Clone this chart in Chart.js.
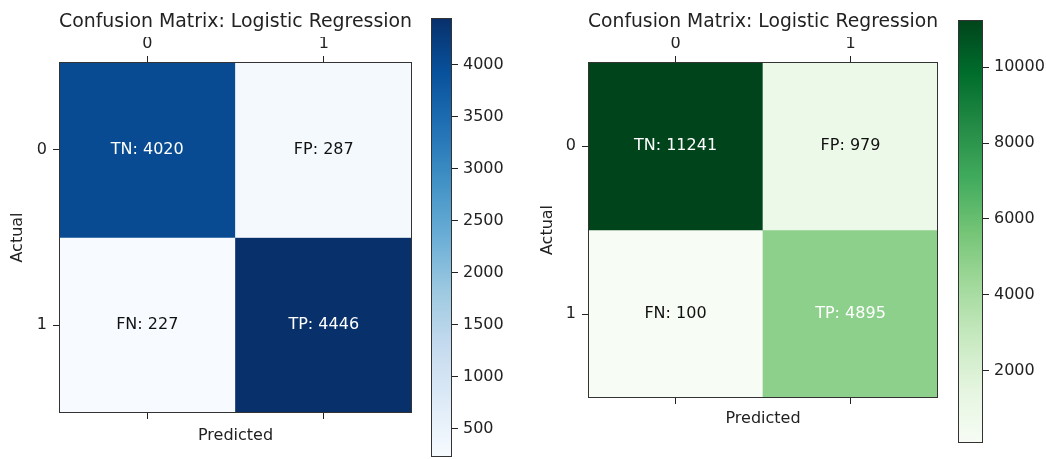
<!DOCTYPE html>
<html>
<head>
<meta charset="utf-8">
<script src="https://cdn.jsdelivr.net/npm/chart.js@4.4.1/dist/chart.umd.min.js"></script>
<style>
  body { margin: 0; background: #fff; width: 1046px; height: 459px; position: relative; overflow: hidden; }
  canvas { position: absolute; top: 0; }
</style>
</head>
<body>
<canvas id="blueMatrix" width="425" height="459" style="left:0px"></canvas>
<canvas id="blueBar" width="95" height="459" style="left:425px"></canvas>
<canvas id="greenMatrix" width="420" height="459" style="left:530px"></canvas>
<canvas id="greenBar" width="96" height="459" style="left:950px"></canvas>
<script>
// data
const classes = ['0', '1'];
const cellNames = [['TN', 'FP'], ['FN', 'TP']];
const blueActual0 = [4020, 287];
const blueActual1 = [227, 4446];
const greenActual0 = [11241, 979];
const greenActual1 = [100, 4895];
const blueTicks = [500, 1000, 1500, 2000, 2500, 3000, 3500, 4000];
const greenTicks = [2000, 4000, 6000, 8000, 10000];

// matplotlib Blues / Greens
const blues = ['#f7fbff', '#deebf7', '#c6dbef', '#9ecae1', '#6baed6', '#4292c6', '#2171b5', '#08519c', '#08306b'];
const greens = ['#f7fcf5', '#e5f5e0', '#c7e9c0', '#a1d99b', '#74c476', '#41ab5d', '#238b45', '#006d2c', '#00441b'];

const FONT = '"DejaVu Sans", sans-serif';
const INK = '#222';

function hexToRgb(h) {
  return [1, 3, 5].map(i => parseInt(h.slice(i, i + 2), 16));
}

function cmap(stops, t) {
  t = Math.min(1, Math.max(0, t));
  const p = t * (stops.length - 1);
  const i = Math.min(Math.floor(p), stops.length - 2);
  const f = p - i;
  const a = hexToRgb(stops[i]);
  const b = hexToRgb(stops[i + 1]);
  const c = a.map((v, k) => Math.round(v + (b[k] - v) * f));
  return `rgb(${c[0]},${c[1]},${c[2]})`;
}

// box around the plot area
const frame = {
  id: 'frame',
  afterDraw(chart) {
    const a = chart.chartArea;
    const ctx = chart.ctx;
    ctx.save();
    ctx.strokeStyle = '#333';
    ctx.lineWidth = 1;
    ctx.strokeRect(a.left + 0.5, a.top + 0.5, a.width - 1, a.height - 1);
    ctx.restore();
  }
};

// "TN: 4020" etc in each cell
const cellText = {
  id: 'cellText',
  afterDatasetsDraw(chart) {
    const ctx = chart.ctx;
    ctx.save();
    ctx.font = '16px ' + FONT;
    ctx.textAlign = 'center';
    ctx.textBaseline = 'middle';
    chart.data.datasets.forEach((ds, r) => {
      chart.getDatasetMeta(r).data.forEach((bar, c) => {
        const p = bar.getCenterPoint();
        ctx.fillStyle = r === c ? '#ffffff' : '#111111';
        ctx.fillText(cellNames[r][c] + ': ' + ds.counts[c], p.x, p.y);
      });
    });
    ctx.restore();
  }
};

function makeMatrix(id, rows, stops, box) {
  const all = rows.flat();
  const lo = Math.min(...all);
  const hi = Math.max(...all);
  const datasets = rows.map((row, r) => ({
    label: 'Actual ' + classes[r],
    data: row.map(() => 1), // every cell is one unit tall
    counts: row,
    backgroundColor: row.map(v => cmap(stops, (v - lo) / (hi - lo))),
    borderWidth: 0,
    barPercentage: 1,
    categoryPercentage: 1
  }));
  const tickGrid = { offset: false, drawOnChartArea: false, tickLength: 6, color: INK };

  new Chart(document.getElementById(id), {
    type: 'bar',
    data: { labels: classes, datasets: datasets },
    options: {
      responsive: false,
      animation: false,
      devicePixelRatio: 1,
      layout: { padding: { right: box.right, bottom: box.bottom } },
      plugins: {
        legend: { display: false },
        tooltip: { enabled: false },
        title: {
          display: true,
          text: 'Confusion Matrix: Logistic Regression',
          fullSize: false,
          color: INK,
          font: { family: FONT, size: 20, weight: 'normal' },
          padding: { top: 10, bottom: 3 }
        }
      },
      scales: {
        x: {
          position: 'top',
          stacked: true,
          grid: tickGrid,
          border: { display: false },
          ticks: { color: INK, font: { family: FONT, size: 16 }, padding: 3, maxRotation: 0 },
          afterFit: s => { s.height = 25; }
        },
        x2: {
          type: 'category',
          labels: classes,
          position: 'bottom',
          offset: true,
          grid: tickGrid,
          border: { display: false },
          ticks: { display: false },
          title: {
            display: true, text: 'Predicted', color: INK,
            font: { family: FONT, size: 16 }, padding: { top: 0, bottom: 14 }
          },
          afterFit: s => { s.height = box.axisBottom; }
        },
        y: {
          stacked: true,
          reverse: true,
          min: 0,
          max: 2,
          grid: tickGrid,
          border: { display: false },
          afterBuildTicks: s => { s.ticks = classes.map((c, i) => ({ value: i + 0.5 })); },
          ticks: {
            color: INK, font: { family: FONT, size: 16 }, padding: 6,
            callback: v => classes[Math.floor(v)]
          },
          title: {
            display: true, text: 'Actual', color: INK,
            font: { family: FONT, size: 16 }, padding: { top: 8, bottom: 0 }
          },
          afterFit: s => { s.width = box.axisLeft; }
        }
      }
    },
    plugins: [cellText, frame]
  });
  return [lo, hi];
}

function makeColorbar(id, range, stops, ticks, box) {
  new Chart(document.getElementById(id), {
    type: 'bar',
    data: {
      labels: [''],
      datasets: [{
        data: [range],
        backgroundColor: c => {
          const a = c.chart.chartArea;
          if (!a) return stops[0];
          const g = c.chart.ctx.createLinearGradient(0, a.bottom, 0, a.top);
          stops.forEach((s, i) => g.addColorStop(i / (stops.length - 1), s));
          return g;
        },
        borderWidth: 0,
        barPercentage: 1,
        categoryPercentage: 1
      }]
    },
    options: {
      responsive: false,
      animation: false,
      devicePixelRatio: 1,
      layout: { padding: { left: box.left, top: box.top, bottom: box.bottom } },
      plugins: { legend: { display: false }, tooltip: { enabled: false } },
      scales: {
        x: { display: false },
        y: {
          position: 'right',
          min: range[0],
          max: range[1],
          grid: { drawOnChartArea: false, tickLength: 6, color: INK },
          border: { display: false },
          afterBuildTicks: s => { s.ticks = ticks.map(v => ({ value: v })); },
          ticks: { color: INK, font: { family: FONT, size: 16 }, padding: 5, callback: v => String(v) },
          afterFit: s => {
            s.width = box.axis;
            // the end labels sit inside the bar, no extra room needed
            s.paddingTop = 0;
            s.paddingBottom = 0;
          }
        }
      }
    },
    plugins: [frame]
  });
}

const blueRange = makeMatrix('blueMatrix', [blueActual0, blueActual1], blues,
  { right: 13, bottom: 0, axisBottom: 46, axisLeft: 59 });
makeColorbar('blueBar', blueRange, blues, blueTicks, { left: 6, top: 18, bottom: 2, axis: 68 });

const greenRange = makeMatrix('greenMatrix', [greenActual0, greenActual1], greens,
  { right: 12, bottom: 17, axisBottom: 44, axisLeft: 58 });
makeColorbar('greenBar', greenRange, greens, greenTicks, { left: 8, top: 20, bottom: 16, axis: 63 });
</script>
</body>
</html>
